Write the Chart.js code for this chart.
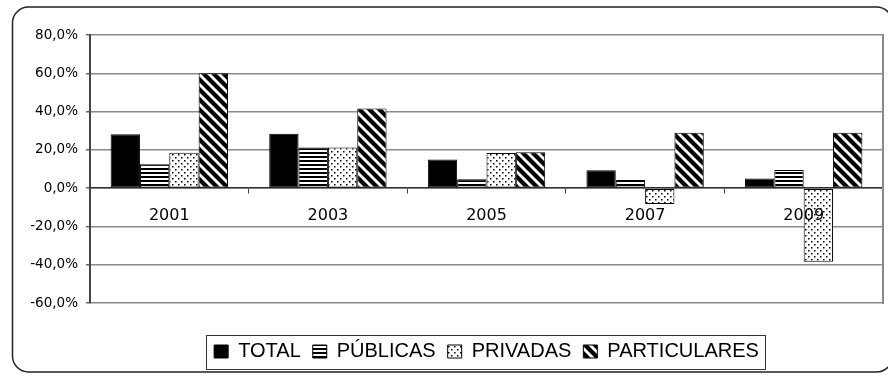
<!DOCTYPE html>
<html>
<head>
<meta charset="utf-8">
<style>
 html,body{margin:0;padding:0;background:#fff}
 canvas{display:block}
</style>
<script src="https://cdn.jsdelivr.net/npm/chart.js@4/dist/chart.umd.min.js"></script>
</head>
<body>
<canvas id="chart" width="888" height="376"></canvas>
<script>
const years=['2001','2003','2005','2007','2009'];
const total=[28.2,28.4,15.0,9.3,5.0];
const publicas=[12.5,21.2,4.7,4.2,9.5];
const privadas=[18.5,21.2,18.3,-8.3,-38.4];
const particulares=[60.0,41.6,18.8,28.9,29.0];
const yTicks=[-60,-40,-20,0,20,40,60,80];

const canvas=document.getElementById('chart');
const ctx=canvas.getContext('2d');

// black & white fills for the series
function pattern(size,paint){
 const c=document.createElement('canvas');
 c.width=c.height=size;
 const g=c.getContext('2d');
 g.fillStyle='#fff';g.fillRect(0,0,size,size);
 g.fillStyle='#000';g.strokeStyle='#000';
 paint(g,size);
 return ctx.createPattern(c,'repeat');
}
const hLines=pattern(4,(g)=>g.fillRect(0,0,4,2));
const dots=pattern(6,(g)=>{g.fillRect(1,1,1.5,1.5);g.fillRect(4,4,1.5,1.5);});
const diag=pattern(10,(g,s)=>{
 g.lineWidth=4.2;
 for(const o of [-s,0,s]){g.beginPath();g.moveTo(o-2,-2);g.lineTo(o+s+2,s+2);g.stroke();}
});

const grid='#8a8a8a';
const tickFont={family:'DejaVu Sans',size:13.5};

const frame={
 id:'frame',
 beforeDraw(chart){
  const c=chart.ctx;
  c.save();
  c.fillStyle='#fff';c.fillRect(0,0,chart.width,chart.height);
  c.strokeStyle='#222';c.lineWidth=1.5;
  c.beginPath();c.roundRect(12.5,7,880,365,16);c.stroke();
  c.restore();
 },
 afterDraw(chart){
  const hb=chart.legend.legendHitBoxes;
  if(!hb.length) return;
  const last=hb[hb.length-1];
  const c=chart.ctx;
  c.save();
  c.strokeStyle='#333';c.lineWidth=1;
  c.strokeRect(Math.round(hb[0].left-8)+.5,Math.round(hb[0].top-7)+.5,
   Math.round(last.left+last.width+6-(hb[0].left-8)),Math.round(hb[0].height+14));
  c.restore();
 }
};

const bar=(label,data,fill)=>({label,data,backgroundColor:fill,borderColor:'#000',borderWidth:1,borderSkipped:false});

new Chart(canvas,{
 type:'bar',
 data:{labels:years,datasets:[
  bar('TOTAL',total,'#000'),
  bar('PÚBLICAS',publicas,hLines),
  bar('PRIVADAS',privadas,dots),
  bar('PARTICULARES',particulares,diag)
 ]},
 options:{
  responsive:false,animation:false,
  layout:{padding:{top:35,left:0,right:5,bottom:4.5}},
  datasets:{bar:{categoryPercentage:0.74,barPercentage:1}},
  plugins:{
   tooltip:{enabled:false},
   legend:{
    position:'bottom',fullSize:false,
    title:{display:true,text:'',font:{size:10},padding:{top:0,bottom:14.5}},
    labels:{color:'#000',font:{family:'Liberation Sans',size:20},boxWidth:14,boxHeight:13,padding:12}
   }
  },
  scales:{
   x:{
    position:{y:0},
    grid:{drawOnChartArea:false,offset:true,tickLength:5,color:'#444'},
    border:{color:'#333',width:1.5},
    // year labels sit on top of the bars hanging below zero
    ticks:{z:1,color:'#000',font:{family:'DejaVu Sans',size:16},padding:13}
   },
   y:{
    min:-60,max:80,
    afterFit(s){s.width=90;},
    afterBuildTicks(s){s.ticks=yTicks.map(v=>({value:v}));},
    grid:{color:grid,lineWidth:1.5,tickLength:4,tickColor:'#666'},
    border:{color:'#444',width:2},
    ticks:{color:'#000',font:tickFont,padding:8,callback:v=>v.toFixed(1).replace('.',',')+'%'}
   },
   y2:{
    position:'right',
    afterFit(s){s.width=0;},
    grid:{drawOnChartArea:false,drawTicks:false},
    border:{color:grid,width:2},
    ticks:{display:false}
   }
  }
 },
 plugins:[frame]
});
</script>
</body>
</html>
